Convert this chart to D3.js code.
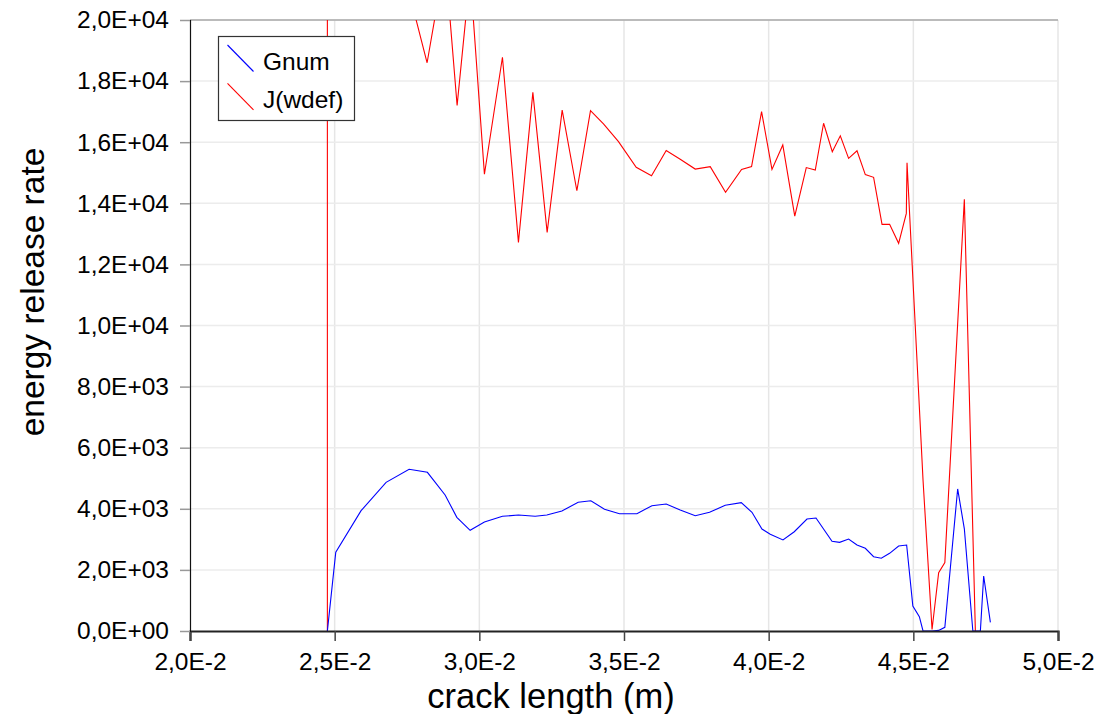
<!DOCTYPE html>
<html>
<head>
<meta charset="utf-8">
<script src="https://cdn.jsdelivr.net/npm/d3@7"></script>
<style>
  html, body { margin: 0; padding: 0; background: #fff; }
  svg { display: block; font-family: "Liberation Sans", Arial, sans-serif; }
</style>
</head>
<body>
<svg id="chart" width="1113" height="714"></svg>
<script>
// ---- data (crack length in m, energy release rate) ----
const gnumX = [0.024748, 0.025038, 0.025913, 0.026777, 0.027573, 0.028205, 0.028817, 0.029222, 0.029682, 0.030176,
  0.030799, 0.031352, 0.031929, 0.032334, 0.032853, 0.033416, 0.033855, 0.034326, 0.034844, 0.035446,
  0.035965, 0.036459, 0.036943, 0.037462, 0.037956, 0.038499, 0.039053, 0.039423, 0.039768, 0.040055,
  0.040495, 0.040885, 0.041324, 0.041636, 0.042189, 0.042452, 0.042763, 0.043053, 0.043340, 0.043627,
  0.043893, 0.044180, 0.044492, 0.044769, 0.044983, 0.045208, 0.045335, 0.045647, 0.045875, 0.046089,
  0.046532, 0.046763, 0.047057, 0.047317, 0.047431, 0.047663];
const gnumY = [0, 2576, 3938, 4867, 5293, 5194, 4452, 3721, 3296, 3568,
  3754, 3797, 3754, 3797, 3928, 4212, 4265, 3984, 3840, 3840,
  4102, 4157, 3961, 3775, 3885, 4114, 4200, 3885, 3339, 3165,
  2979, 3250, 3666, 3699, 2936, 2903, 3011, 2815, 2707, 2432,
  2380, 2543, 2782, 2815, 818, 468, 0, 0, 20, 120,
  4650, 3345, 0, 0, 1800, 280];

const jX = [0.024748, 0.024750, 0.025038, 0.025913, 0.026777, 0.027573, 0.028195, 0.028817, 0.029232, 0.029682,
  0.030176, 0.030799, 0.031352, 0.031850, 0.032344, 0.032863, 0.033371, 0.033842, 0.034291, 0.034810,
  0.035422, 0.035951, 0.036459, 0.036943, 0.037462, 0.037981, 0.038510, 0.039063, 0.039409, 0.039755,
  0.040114, 0.040488, 0.040902, 0.041300, 0.041611, 0.041898, 0.042199, 0.042476, 0.042763, 0.043053,
  0.043340, 0.043627, 0.043918, 0.044180, 0.044492, 0.044758, 0.044782, 0.045335, 0.045647, 0.045875,
  0.046089, 0.046763, 0.047144];
const jY = [0, 400000, 60000, 36000, 27000, 20900, 18600, 22000, 17200, 21500,
  14950, 18780, 12720, 17630, 13050, 17050, 14410, 17030, 16600, 16020,
  15180, 14900, 15730, 15440, 15120, 15200, 14360, 15110, 15200, 17000,
  15110, 15910, 13580, 15170, 15090, 16620, 15690, 16210, 15470, 15720,
  14940, 14850, 13310, 13310, 12690, 13670, 15330, 4940, 50, 1910,
  2240, 14130, 0];

const seriesNames = ["Gnum", "J(wdef)"];
const seriesColors = ["#0000ff", "#ff0000"];

const xTicks = [0.020, 0.025, 0.030, 0.035, 0.040, 0.045, 0.050];
const xTickLabels = ["2,0E-2", "2,5E-2", "3,0E-2", "3,5E-2", "4,0E-2", "4,5E-2", "5,0E-2"];
const yTicks = [0, 2000, 4000, 6000, 8000, 10000, 12000, 14000, 16000, 18000, 20000];
const yTickLabels = ["0,0E+00", "2,0E+03", "4,0E+03", "6,0E+03", "8,0E+03", "1,0E+04",
  "1,2E+04", "1,4E+04", "1,6E+04", "1,8E+04", "2,0E+04"];

// ---- layout ----
const svg = d3.select("#chart");
const L = 190, R = 1058, T = 20, B = 631;

const x = d3.scaleLinear().domain([0.020, 0.050]).range([L, R]);
const y = d3.scaleLinear().domain([0, 20000]).range([B, T]);

svg.append("defs").append("clipPath").attr("id", "plotclip")
  .append("rect").attr("x", L).attr("y", T).attr("width", R - L).attr("height", B - T);

// grid
const grid = svg.append("g");
grid.selectAll("line.v").data(xTicks.slice(1)).join("line")
  .attr("x1", d => x(d)).attr("x2", d => x(d)).attr("y1", T).attr("y2", B)
  .attr("stroke", "#e6e6e6").attr("stroke-width", 1.5);
grid.selectAll("line.h").data(yTicks.slice(1)).join("line")
  .attr("x1", L).attr("x2", R).attr("y1", d => y(d)).attr("y2", d => y(d))
  .attr("stroke", "#ececec").attr("stroke-width", 1.5);

// top border
svg.append("line").attr("x1", L).attr("x2", R).attr("y1", T).attr("y2", T)
  .attr("stroke", "#a8a8a8").attr("stroke-width", 1.5);

// lines
const lineGen = (xs, ys) => d3.line().x((d, i) => x(xs[i])).y((d, i) => y(ys[i]))(ys);
const plot = svg.append("g").attr("clip-path", "url(#plotclip)");
plot.append("path").attr("d", lineGen(jX, jY))
  .attr("fill", "none").attr("stroke", seriesColors[1]).attr("stroke-width", 1.1);
plot.append("path").attr("d", lineGen(gnumX, gnumY))
  .attr("fill", "none").attr("stroke", seriesColors[0]).attr("stroke-width", 1.1);

// x axis
const xAxis = d3.axisBottom(x).tickValues(xTicks).tickFormat((d, i) => xTickLabels[i]).tickSize(10).tickPadding(12);
const gx = svg.append("g").attr("transform", `translate(0,${B})`).call(xAxis);
gx.select(".domain").attr("stroke", "#222").attr("stroke-width", 2.2);
gx.selectAll(".tick line").attr("stroke", "#444").attr("stroke-width", 1.5);
gx.selectAll("text").attr("font-size", 24.5).attr("fill", "#000")
  .attr("font-family", "'Liberation Sans', Arial, sans-serif");

// y axis
const yAxis = d3.axisLeft(y).tickValues(yTicks).tickFormat((d, i) => yTickLabels[i]).tickSize(10).tickPadding(11);
const gy = svg.append("g").attr("transform", `translate(${L},0)`).call(yAxis);
gy.select(".domain").attr("stroke", "#111").attr("stroke-width", 1.2);
gy.selectAll(".tick line").attr("stroke", "#999").attr("stroke-width", 1.5);
gy.selectAll("text").attr("font-size", 24.5).attr("fill", "#000")
  .attr("font-family", "'Liberation Sans', Arial, sans-serif");

// axis titles
svg.append("text").attr("x", 551).attr("y", 708).attr("text-anchor", "middle")
  .attr("font-size", 34.5).attr("fill", "#000").text("crack length (m)");
svg.append("text").attr("transform", "translate(44,292) rotate(-90)").attr("text-anchor", "middle")
  .attr("font-size", 33.5).attr("fill", "#000").text("energy release rate");

// legend
const lg = svg.append("g");
lg.append("rect").attr("x", 218.5).attr("y", 36.5).attr("width", 136).attr("height", 84)
  .attr("fill", "#fff").attr("stroke", "#333").attr("stroke-width", 1.2);
seriesNames.forEach((name, i) => {
  const yy = 45 + i * 38.3;
  lg.append("line").attr("x1", 227.5).attr("y1", yy).attr("x2", 253.5).attr("y2", yy + 26.5)
    .attr("stroke", seriesColors[i]).attr("stroke-width", 1.1);
  lg.append("text").attr("x", 263).attr("y", yy + 24.5).attr("font-size", 24.5)
    .attr("fill", "#000").text(name);
});
</script>
</body>
</html>
